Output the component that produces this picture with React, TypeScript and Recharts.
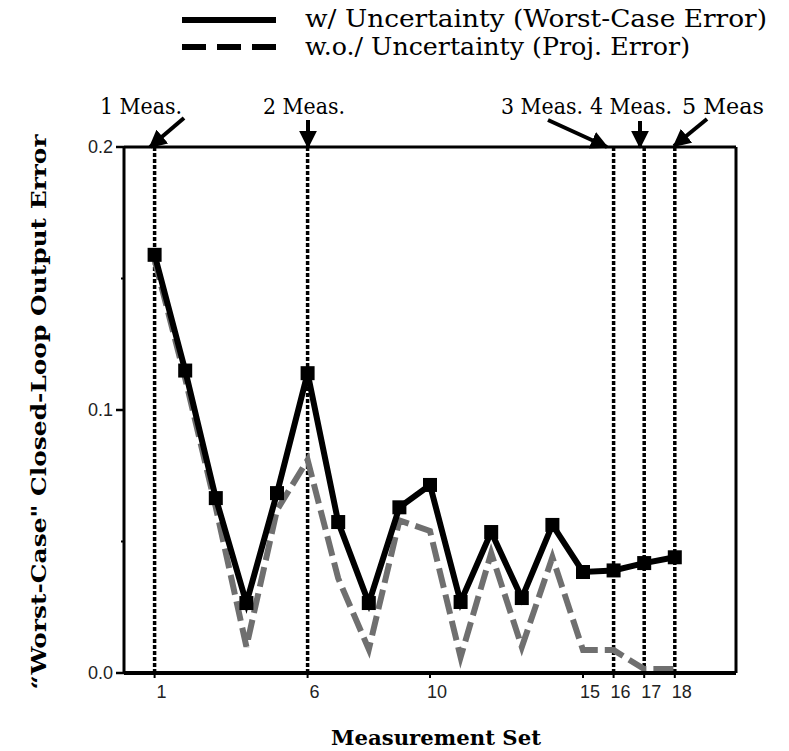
import React from "react";
import { LineChart, Line, XAxis, YAxis, ReferenceLine } from "recharts";

const measurementSets = [1, 2, 3, 4, 5, 6, 7, 8, 9, 10, 11, 12, 13, 14, 15, 16, 17, 18];
const worstCaseError = [
  0.159, 0.115, 0.0665, 0.0266, 0.0684, 0.114, 0.0574, 0.0266, 0.063, 0.0715, 0.027, 0.0536,
  0.0285, 0.0563, 0.0384, 0.039, 0.0418, 0.044,
];
const projectionError = [
  0.157, 0.112, 0.063, 0.01, 0.062, 0.081, 0.036, 0.009, 0.058, 0.054, 0.006, 0.0456, 0.0099,
  0.044, 0.0087, 0.0087, 0.0015, 0.0015,
];

// sets where a new measurement was added
const measurementMarks = [1, 6, 16, 17, 18];
const measurementLabels = ["1 Meas.", "2 Meas.", "3 Meas.", "4 Meas.", "5 Meas"];

const xTicks = [1, 6, 10, 15, 16, 17, 18];
const yTicks = [0, 0.05, 0.1, 0.15, 0.2];
const yTickLabels: Record<number, string> = { 0: "0.0", 0.1: "0.1", 0.2: "0.2" };

const chartData = measurementSets.map((set, i) => ({
  set,
  worst: worstCaseError[i],
  proj: projectionError[i],
}));

const serif = "'DejaVu Serif', 'Liberation Serif', serif";
const sans = "'Liberation Sans', Arial, sans-serif";

function SquareDot(props: any) {
  const { cx, cy } = props;
  if (cx == null || cy == null) return null;
  return <rect x={cx - 7} y={cy - 7} width={14} height={14} fill="#000" />;
}

function XTick(props: any) {
  const { x, y, payload } = props;
  return (
    <g>
      <line x1={x} x2={x} y1={y} y2={y + 5} stroke="#000" strokeWidth={2} />
      <text x={x + 7} y={y + 25} textAnchor="middle" fontFamily={sans} fontSize={18} fill="#222">
        {payload.value}
      </text>
    </g>
  );
}

function YTick(props: any) {
  const { x, y, payload } = props;
  const label = yTickLabels[payload.value];
  if (!label) {
    return <line x1={x - 3} x2={x} y1={y} y2={y} stroke="#000" strokeWidth={2} />;
  }
  return (
    <g>
      <line x1={x - 8} x2={x} y1={y} y2={y} stroke="#000" strokeWidth={2.5} />
      <text x={x - 11} y={y + 6} textAnchor="end" fontFamily={sans} fontSize={18} fill="#222">
        {label}
      </text>
    </g>
  );
}

// arrow annotations above the frame (pixel positions of the drawing)
const arrows = [
  { x1: 184, y1: 118, x2: 150, y2: 147, lx: 141 },
  { x1: 308, y1: 120, x2: 308, y2: 147, lx: 304 },
  { x1: 548, y1: 120, x2: 607, y2: 147, lx: 542 },
  { x1: 640, y1: 121, x2: 640, y2: 147, lx: 631 },
  { x1: 707, y1: 119, x2: 674, y2: 146, lx: 723 },
];

function Overlay() {
  return (
    <svg
      width={789}
      height={751}
      style={{ position: "absolute", left: 0, top: 0, pointerEvents: "none" }}
    >
      <defs>
        <marker id="head" viewBox="0 0 10 10" refX="9" refY="5" markerWidth="4.5" markerHeight="4.5" orient="auto">
          <path d="M0,0 L10,5 L0,10 z" fill="#000" />
        </marker>
      </defs>
      {/* legend */}
      <line x1={182} x2={276} y1={20} y2={20} stroke="#000" strokeWidth={6} />
      <line x1={182} x2={276} y1={47} y2={47} stroke="#000" strokeWidth={6} strokeDasharray="24 11" />
      <text x={305} y={27} fontFamily={serif} fontSize={24} textLength={462} lengthAdjust="spacingAndGlyphs">
        w/ Uncertainty (Worst-Case Error)
      </text>
      <text x={305} y={55} fontFamily={serif} fontSize={24} textLength={385} lengthAdjust="spacingAndGlyphs">
        w.o./ Uncertainty (Proj. Error)
      </text>
      {/* measurement annotations */}
      {arrows.map((a, i) => (
        <g key={i}>
          <text x={a.lx} y={114} textAnchor="middle" fontFamily={serif} fontSize={22} textLength={82} lengthAdjust="spacingAndGlyphs">
            {measurementLabels[i]}
          </text>
          <line x1={a.x1} y1={a.y1} x2={a.x2} y2={a.y2} stroke="#000" strokeWidth={4} markerEnd="url(#head)" />
        </g>
      ))}
      {/* axis titles */}
      <text
        transform="translate(46,412) rotate(-90)"
        textAnchor="middle"
        fontFamily={serif}
        fontWeight="bold"
        fontSize={20}
        textLength={555}
        lengthAdjust="spacingAndGlyphs"
      >
        “Worst-Case" Closed-Loop Output Error
      </text>
      <text x={436} y={745} textAnchor="middle" fontFamily={serif} fontWeight="bold" fontSize={20} textLength={210} lengthAdjust="spacingAndGlyphs">
        Measurement Set
      </text>
    </svg>
  );
}

export default function App() {
  return (
    <div style={{ position: "absolute", left: 0, top: 0, width: 789, height: 751, background: "#fff" }}>
      <LineChart width={789} height={751} data={chartData} margin={{ top: 147, right: 53, bottom: 48, left: 84 }}>
        <XAxis
          dataKey="set"
          type="number"
          domain={[0, 20]}
          ticks={xTicks}
          height={30}
          tickSize={0}
          tickMargin={0}
          tickLine={false}
          axisLine={{ stroke: "#000", strokeWidth: 4 }}
          tick={<XTick />}
          allowDataOverflow
        />
        <YAxis
          type="number"
          domain={[0, 0.2]}
          ticks={yTicks}
          width={40}
          tickSize={0}
          tickMargin={0}
          tickLine={false}
          axisLine={{ stroke: "#000", strokeWidth: 3 }}
          tick={<YTick />}
          allowDataOverflow
        />
        <ReferenceLine y={0.2} stroke="#000" strokeWidth={3} />
        <ReferenceLine x={20} stroke="#000" strokeWidth={3} />
        {measurementMarks.map((m) => (
          <ReferenceLine key={m} x={m} stroke="#000" strokeWidth={3.5} strokeDasharray="4 2" />
        ))}
        <Line
          dataKey="proj"
          stroke="#6f6f6f"
          strokeWidth={6}
          strokeDasharray="20 7"
          dot={false}
          isAnimationActive={false}
        />
        <Line dataKey="worst" stroke="#000" strokeWidth={6} dot={<SquareDot />} isAnimationActive={false} />
      </LineChart>
      <Overlay />
    </div>
  );
}
